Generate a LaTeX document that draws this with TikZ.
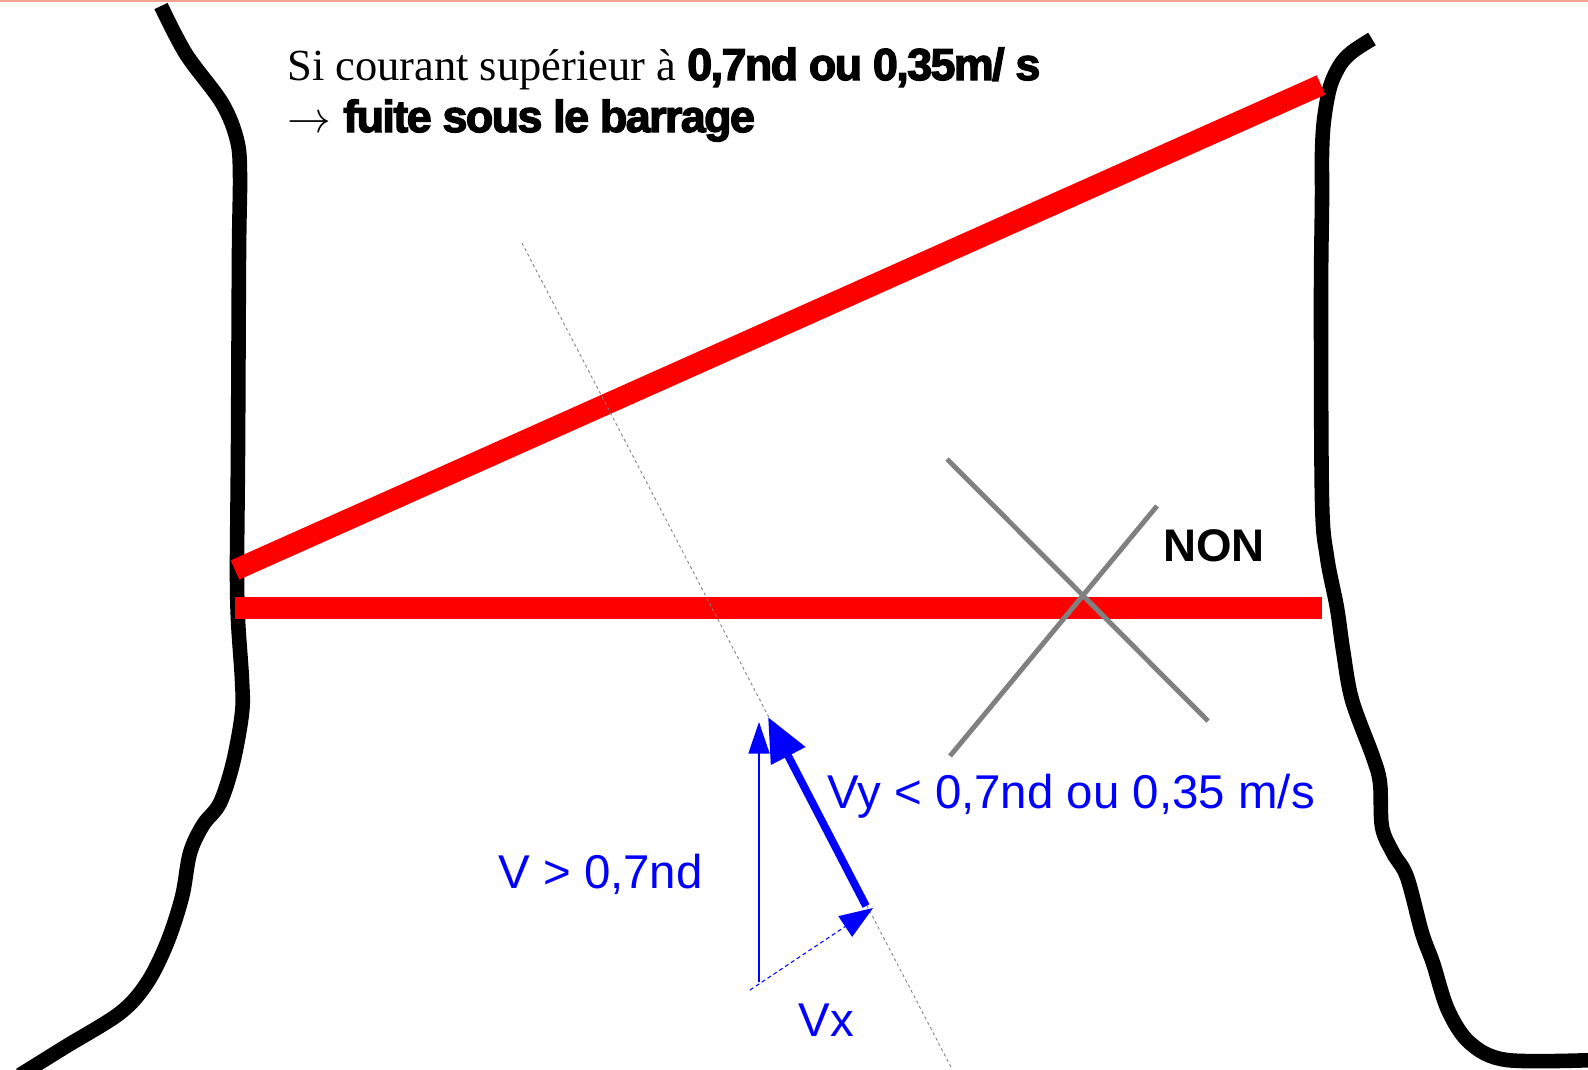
\documentclass[tikz,border=0pt]{standalone}
\usepackage{fontspec}
\setmainfont{Liberation Serif}
\setsansfont{Liberation Sans}
\newfontfamily\heavyfont[FakeBold=3,LetterSpace=-3.5]{Liberation Sans Bold}
\usetikzlibrary{arrows.meta}
\definecolor{topline}{RGB}{242,164,140}
\tikzset{
  bank/.style={line width=8.3pt, black, line join=round},
  dam/.style={line width=12pt, red},
  cross/.style={line width=2.8pt, gray},
  flowaxis/.style={gray, line width=0.5pt, dash pattern=on 1.7pt off 1.7pt},
  rule/.style={anchor=base west, inner sep=0pt, font=\fontsize{25.3}{30}\selectfont},
  heavy/.style={font=\heavyfont\fontsize{25.5}{30}\selectfont},
  vlabel/.style={anchor=base west, inner sep=0pt, text=blue, font=\sffamily\fontsize{27}{32}\selectfont},
  thinvec/.style={blue, line width=0.8pt, -{Triangle[length=18pt,width=12pt]}},
  thickvec/.style={blue, line width=4.4pt, -{Triangle[length=25pt,width=21pt]}},
  dashvec/.style={blue, line width=0.6pt, dash pattern=on 2.3pt off 1.7pt, -{Triangle[length=19pt,width=14pt]}}
}
\begin{document}
\begin{tikzpicture}[x=0.02cm, y=-0.02cm]
  \useasboundingbox (0,0) rectangle (1588,1069);
  \draw[topline, line width=0.9pt] (0,0.8) -- (1588,0.8);
  % berges
  \draw[bank] plot[smooth, tension=0.55] coordinates {(161,6) (186,54) (222,103) (237,140) (240,175) (239,253) (238,450) (237,567) (238,620) (242,680) (242,713) (233,763) (220,803) (203,825) (190,853) (182,897) (167,943) (147,983) (120,1013) (65,1047) (20,1075)};
  \draw[bank] plot[smooth, tension=0.55] coordinates {(1372,39) (1352,52) (1340,65) (1330,87) (1324,120) (1322,153) (1322,200) (1321,300) (1322,500) (1327,557) (1337,608) (1343,650) (1352,700) (1373,757) (1380,783) (1382,827) (1393,853) (1407,877) (1422,933) (1433,963) (1448,1010) (1470,1043) (1507,1060) (1595,1060)};
  % barrages
  \coordinate (obliqueL) at (235,570);
  \coordinate (obliqueR) at (1321,85);
  \coordinate (droitL) at (235,608);
  \coordinate (droitR) at (1322,608);
  \draw[dam] (obliqueL) -- (obliqueR);
  \draw[dam] (droitL) -- (droitR);
  \coordinate (xa) at (947,459);
  \coordinate (xb) at (1208,721);
  \coordinate (xc) at (1157,506);
  \coordinate (xd) at (950,756);
  \draw[cross] (xa) -- (xb);
  \draw[cross] (xc) -- (xd);
  \node[anchor=base west, inner sep=0pt, font=\sffamily\bfseries\fontsize{26}{30}\selectfont] (non) at (1163,561) {NON};
  % vitesses
  \coordinate (axisA) at (522,243);
  \coordinate (axisB) at (952,1069);
  \draw[flowaxis] (axisA) -- (axisB);
  \coordinate (vBase) at (759,982);
  \coordinate (vTip) at (759,722);
  \coordinate (vxBase) at (750,990);
  \coordinate (vxTip) at (873,908);
  \coordinate (vyBase) at (866,906);
  \coordinate (vyTip) at (768,717);
  \draw[thinvec] (vBase) -- (vTip);
  \draw[dashvec] (vxBase) -- (vxTip);
  \draw[thickvec] (vyBase) -- (vyTip);
  \node[vlabel] (vlab) at (498,888) {V > 0,7nd};
  \node[vlabel] (vylab) at (827,808) {Vy < 0,7nd ou 0,35 m/s};
  \node[vlabel] (vxlab) at (798,1036) {Vx};
  % consigne
  \node[rule] (rule1) at (287,80) {Si courant supérieur à {\heavyfont\fontsize{25.5}{30}\selectfont 0,7nd ou 0,35m/ s}};
  \node[rule] (rule2) at (287,132) {$\rightarrow$\hspace{7pt}{\heavyfont\fontsize{25.5}{30}\selectfont fuite sous le barrage}};
\end{tikzpicture}
\end{document}
